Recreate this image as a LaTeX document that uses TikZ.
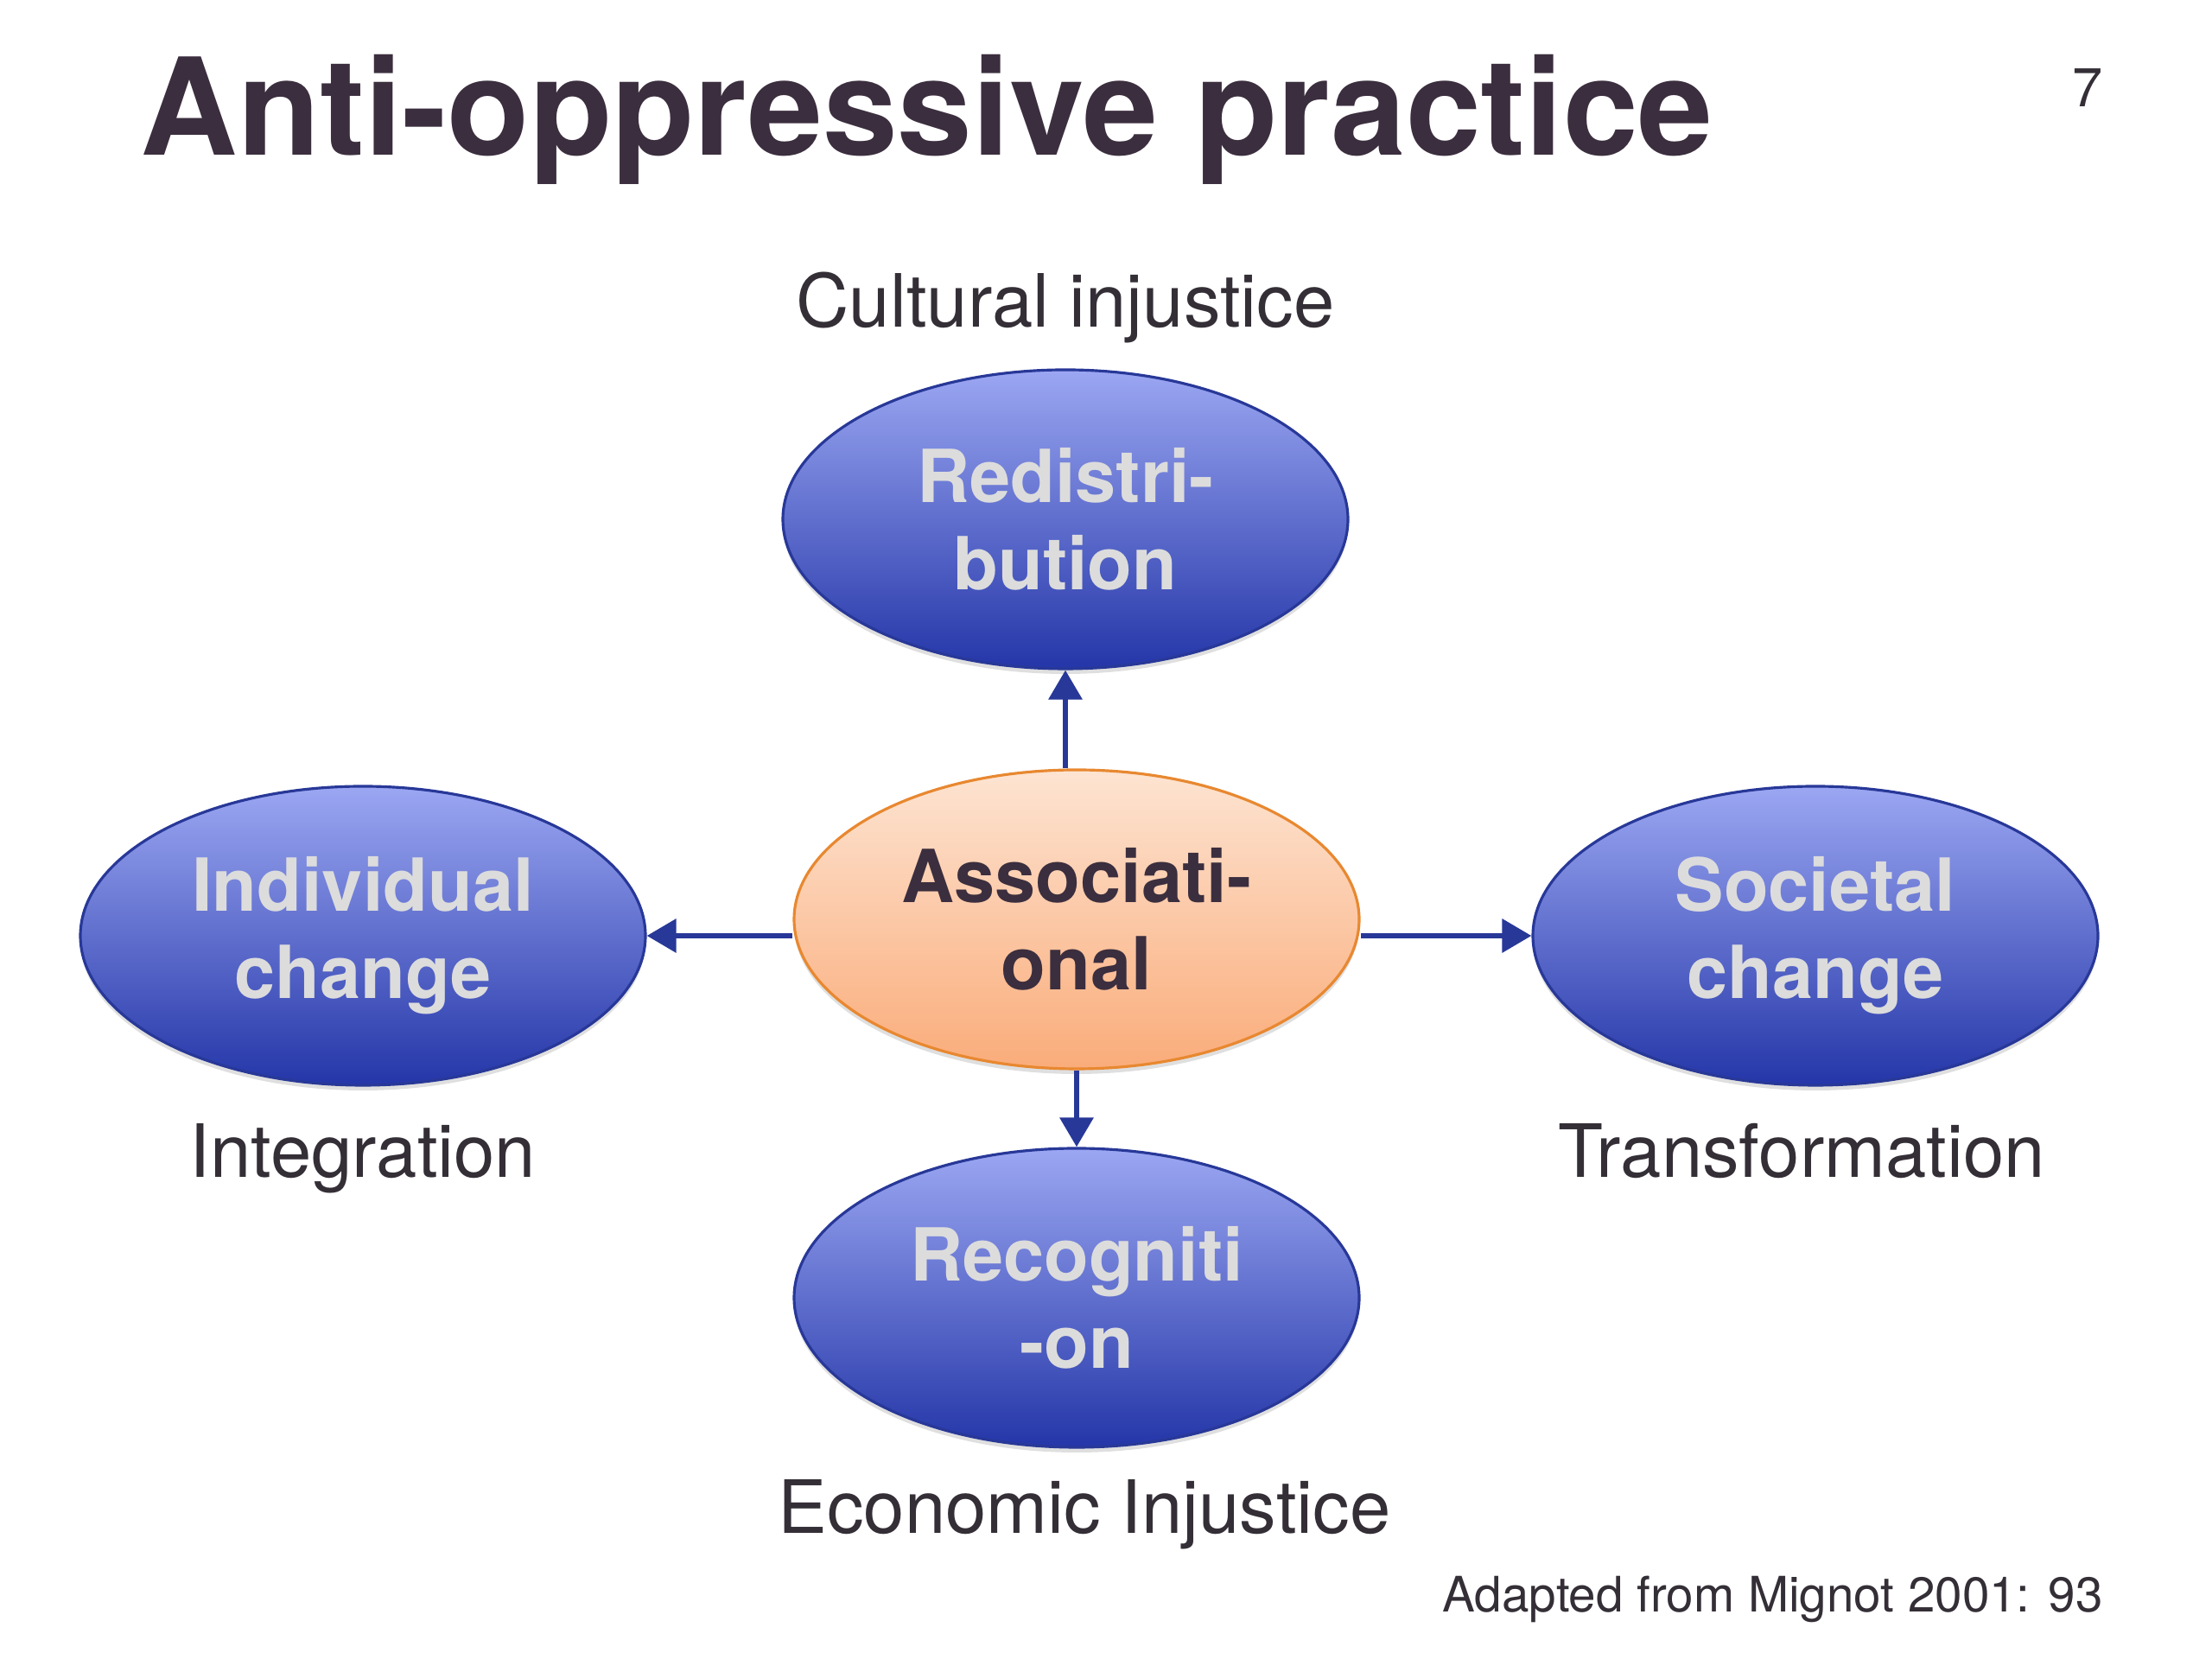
\documentclass[tikz,border=0pt]{standalone}
\usepackage{fontspec}
\setmainfont{TeX Gyre Heros}
\usetikzlibrary{shapes.geometric,arrows.meta,shadows}
\definecolor{titlecol}{RGB}{59,46,62}
\definecolor{labelcol}{RGB}{52,46,54}
\definecolor{bluetop}{RGB}{155,167,242}
\definecolor{bluebot}{RGB}{36,54,168}
\definecolor{blueline}{RGB}{40,56,152}
\definecolor{orgtop}{RGB}{253,228,210}
\definecolor{orgbot}{RGB}{250,172,122}
\definecolor{orgline}{RGB}{232,136,48}
\definecolor{bubbletext}{RGB}{220,220,220}
\begin{document}
\begin{tikzpicture}[>={Triangle[length=3.4mm,width=3.8mm]},
        bubble/.style={ellipse,minimum width=6.54cm,minimum height=3.46cm,inner sep=0pt,
            draw=blueline,line width=0.9pt,top color=bluetop,bottom color=bluebot,
            align=center,text=bubbletext,font=\fontsize{24.1}{28.7}\selectfont\bfseries,
            drop shadow={shadow xshift=0pt,shadow yshift=-0.6mm,opacity=0.25}},
        hub/.style={bubble,draw=orgline,top color=orgtop,bottom color=orgbot,text=titlecol},
        caption/.style={anchor=base,text=labelcol,font=\fontsize{24.2}{29}\selectfont},
        link/.style={->,draw=blueline,line width=1.8pt}]
        \useasboundingbox (0,0) rectangle (25.6,19.2);
        \node[anchor=base west,text=titlecol,font=\fontsize{44.4}{50}\selectfont\bfseries] (title) at (1.50,17.40) {Anti-oppressive practice};
        \node[anchor=base,text=labelcol,font=\fontsize{18}{22}\selectfont] (page) at (24.16,17.96) {7};
        \begin{scope}
            \node[hub] (assoc) at (12.46,8.56) {Associati-\\onal};
            \node[bubble] (redis) at (12.33,13.19) {Redistri-\\bution};
            \node[bubble] (indiv) at (4.20,8.37) {Individual\\change};
            \node[bubble] (soc) at (21.01,8.37) {Societal\\change};
            \node[bubble] (recog) at (12.46,4.18) {Recogniti\\-on};
            \draw[link] (assoc.north -| redis.south)--(redis.south);
            \draw[link] (assoc.west |- indiv.east)--(indiv.east);
            \draw[link] (assoc.east |- soc.west)--(soc.west);
            \draw[link] (assoc.south)--(recog.north);
        \end{scope}
        \node[caption] (cult) at (12.33,15.41) {Cultural injustice};
        \node[caption] (integ) at (4.20,5.57) {Integration};
        \node[caption] (trans) at (20.85,5.57) {Transformation};
        \node[caption] (econ) at (12.55,1.45) {Economic Injustice};
        \node[anchor=base east,text=labelcol,font=\fontsize{16.1}{19}\selectfont] (source) at (24.46,0.54) {Adapted from Mignot 2001: 93};
    \end{tikzpicture}
\end{document}
